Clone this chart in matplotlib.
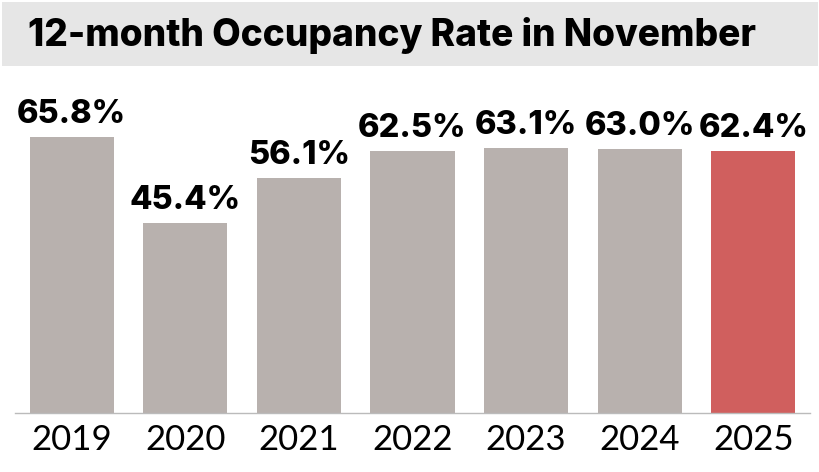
import matplotlib
matplotlib.use("Agg")
import matplotlib.pyplot as plt
from matplotlib.patches import Rectangle

years = ["2019", "2020", "2021", "2022", "2023", "2024", "2025"]
values = [65.8, 45.4, 56.1, 62.5, 63.1, 63.0, 62.4]
labels = ["65.8%", "45.4%", "56.1%", "62.5%", "63.1%", "63.0%", "62.4%"]
title = "12-month Occupancy Rate in November"

gray = "#b8b1ae"
red = "#d05f5e"
colors = [gray] * 6 + [red]

W, H = 820, 472
fig = plt.figure(figsize=(W / 100, H / 100), dpi=100)
fig.patch.set_facecolor("white")

# title banner
fig.patches.append(Rectangle((2 / W, 1 - 66 / H), 816 / W, 64 / H,
                             transform=fig.transFigure, facecolor="#e6e6e6",
                             edgecolor="none", zorder=0))
fig.text(28 / W, 1 - 35 / H, title, fontsize=26.7, fontweight="heavy",
         family=["Inter", "DejaVu Sans"], va="center", ha="left", color="#000000")

ax = fig.add_axes([15 / W, (H - 413) / H, 795 / W, 323 / H])
x = list(range(len(years)))
bars = ax.bar(x, values, width=0.74, color=colors, zorder=2)
ax.set_xlim(-0.5, 6.5)
ax.set_ylim(0, 77)
for xi, v, lab in zip(x, values, labels):
    ax.annotate(lab, (xi, v), xytext=(0, 5), textcoords="offset points",
                ha="center", va="bottom", fontsize=23.5, fontweight="heavy",
                family=["Inter", "DejaVu Sans"], color="#000000")
ax.set_xticks(x)
ax.set_xticklabels(years, fontsize=25, family=["Lato", "DejaVu Sans"],
                   fontweight="normal", color="#000000")
ax.tick_params(axis="x", length=0, pad=8)
ax.set_yticks([])
for s in ["top", "right", "left"]:
    ax.spines[s].set_visible(False)
ax.spines["bottom"].set_color("#bbbbbb")
ax.spines["bottom"].set_linestyle((0, (1, 1)))
ax.spines["bottom"].set_linewidth(1)

fig.savefig("out.png", dpi=100, facecolor="white")
